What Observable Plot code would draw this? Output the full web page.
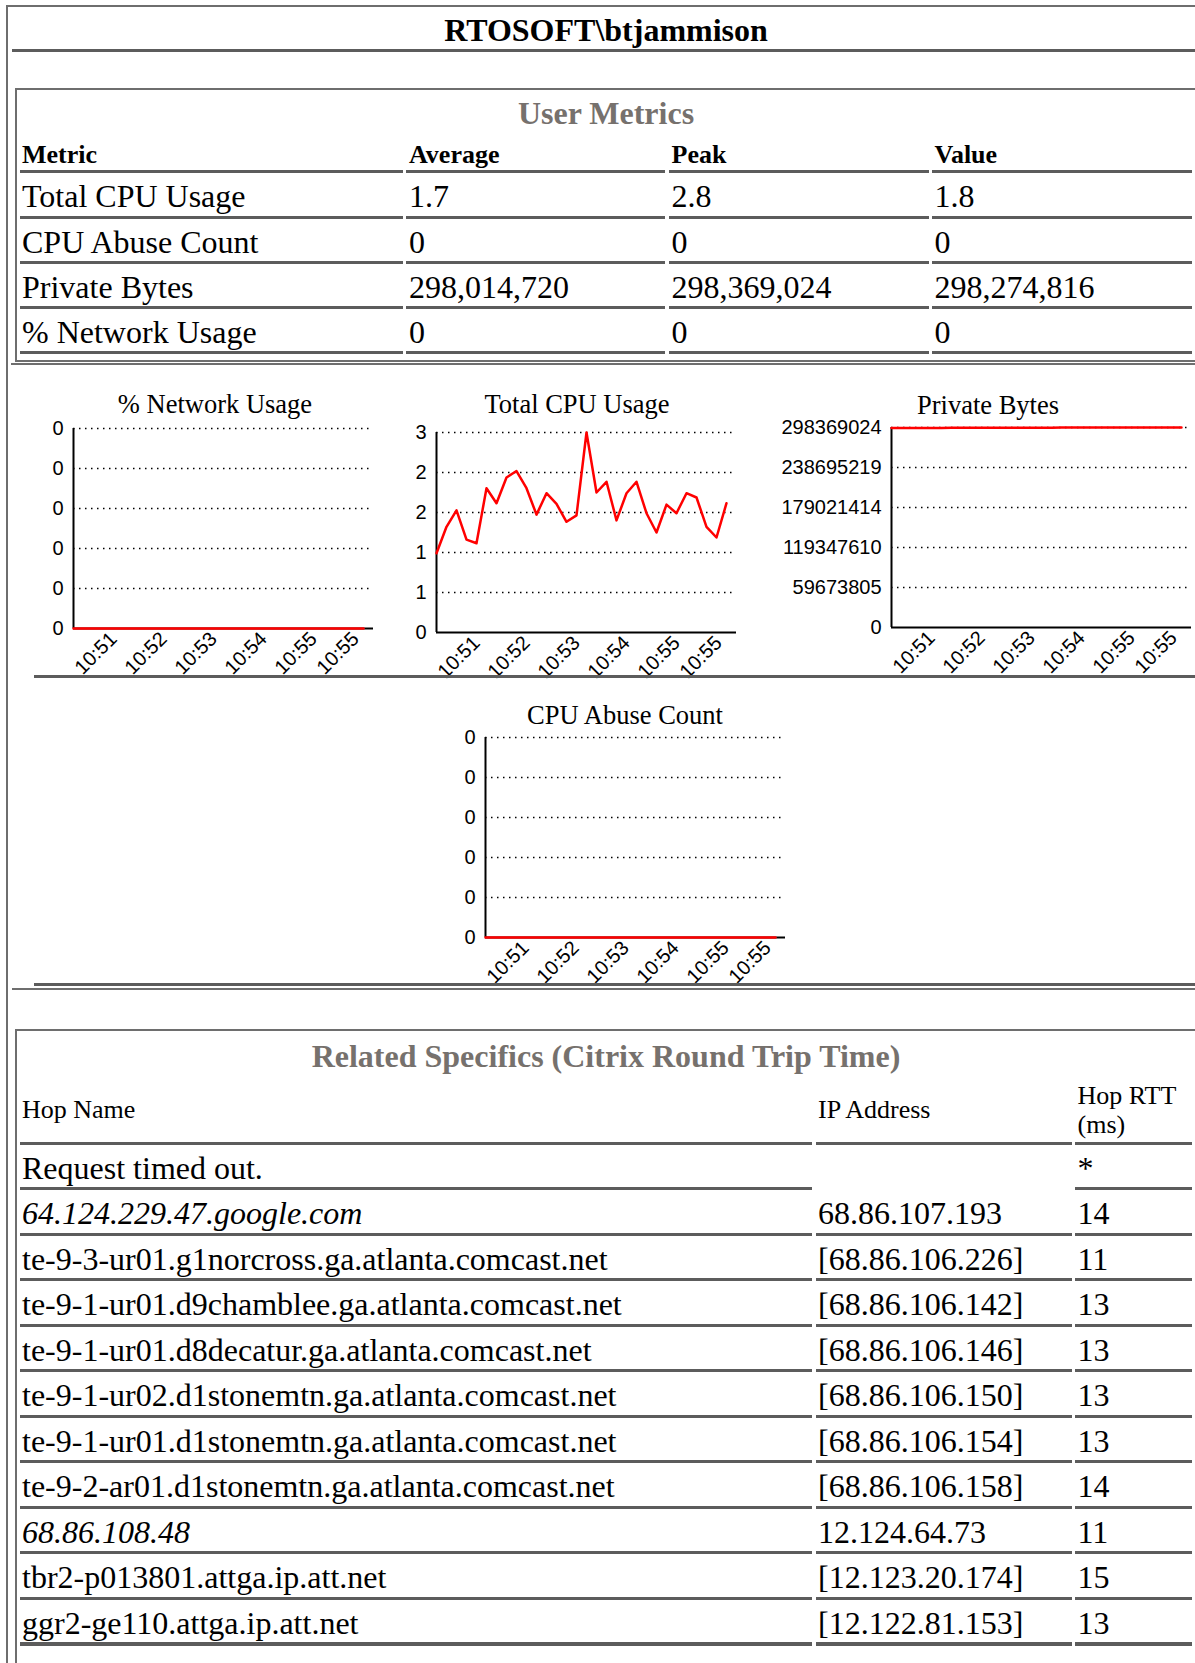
<!DOCTYPE html>
<html><head><meta charset="utf-8">
<script src="https://cdn.jsdelivr.net/npm/d3@7"></script>
<script src="https://cdn.jsdelivr.net/npm/@observablehq/plot@0.6"></script>
<style>
html,body{margin:0;padding:0;background:#fff;overflow:hidden;}
#page{position:relative;width:1195px;height:1663px;overflow:hidden;background:#fff;font-family:"Liberation Serif","Times New Roman",serif;color:#000;}
.t{position:absolute;white-space:nowrap;line-height:1;}
.ln{position:absolute;}
.chart{position:absolute;}
</style></head><body><div id="page"></div>
<script>
// ---------- data ----------
const pageTitle = "RTOSOFT\\btjammison";
const metricsTitle = "User Metrics";
const metricsHeader = ["Metric", "Average", "Peak", "Value"];
const metricNames = ["Total CPU Usage", "CPU Abuse Count", "Private Bytes", "% Network Usage"];
const metricAverage = ["1.7", "0", "298,014,720", "0"];
const metricPeak = ["2.8", "0", "298,369,024", "0"];
const metricValue = ["1.8", "0", "298,274,816", "0"];

const timeLabels = ["10:51", "10:52", "10:53", "10:54", "10:55", "10:55"];
const timeTickIndex = [4, 9, 14, 19, 24, 28.2];

const networkUsage = [0,0,0,0,0,0,0,0,0,0,0,0,0,0,0,0,0,0,0,0,0,0,0,0,0,0,0,0,0,0];
const cpuUsage = [1.11,1.48,1.71,1.30,1.25,2.02,1.81,2.17,2.26,2.02,1.65,1.95,1.80,1.55,1.64,2.80,1.96,2.11,1.57,1.95,2.11,1.67,1.40,1.79,1.67,1.95,1.89,1.48,1.33,1.81];
const privateBytes = [297650000,297700000,297720000,297760000,297800000,297790000,297820000,297850000,297880000,297900000,297930000,297960000,297990000,298050000,298100000,298150000,298180000,298200000,298250000,298280000,298300000,298330000,298340000,298369024,298350000,298330000,298300000,298260000,298290000,298274816];
const cpuAbuse = [0,0,0,0,0,0,0,0,0,0,0,0,0,0,0,0,0,0,0,0,0,0,0,0,0,0,0,0,0,0];

const networkTickLabels = ["0","0","0","0","0","0"];
const cpuTickLabels = ["0","1","1","2","2","3"];
const bytesTickLabels = ["0","59673805","119347610","179021414","238695219","298369024"];
const abuseTickLabels = ["0","0","0","0","0","0"];

const hopsTitle = "Related Specifics (Citrix Round Trip Time)";
const hopNames = ["Request timed out.","64.124.229.47.google.com","te-9-3-ur01.g1norcross.ga.atlanta.comcast.net","te-9-1-ur01.d9chamblee.ga.atlanta.comcast.net","te-9-1-ur01.d8decatur.ga.atlanta.comcast.net","te-9-1-ur02.d1stonemtn.ga.atlanta.comcast.net","te-9-1-ur01.d1stonemtn.ga.atlanta.comcast.net","te-9-2-ar01.d1stonemtn.ga.atlanta.comcast.net","68.86.108.48","tbr2-p013801.attga.ip.att.net","ggr2-ge110.attga.ip.att.net"];
const hopItalic = [false,true,false,false,false,false,false,false,true,false,false];
const hopIPs = ["","68.86.107.193","[68.86.106.226]","[68.86.106.142]","[68.86.106.146]","[68.86.106.150]","[68.86.106.154]","[68.86.106.158]","12.124.64.73","[12.123.20.174]","[12.122.81.153]"];
const hopRTT = ["*","14","11","13","13","13","13","14","11","15","13"];

// ---------- helpers ----------
const page = document.getElementById("page");
const BORDER = "#6e6e6e", RULE = "#5c5c5c", GRAYTXT = "#76716d";
function txt(s, x, base, size, o = {}) {
  const d = document.createElement("div");
  d.className = "t";
  d.textContent = s;
  d.style.fontSize = size + "px";
  if (o.bold) d.style.fontWeight = "bold";
  if (o.italic) d.style.fontStyle = "italic";
  if (o.color) d.style.color = o.color;
  d.style.top = (base - 0.8375 * size) + "px";
  if (o.center) { d.style.left = (x - 500) + "px"; d.style.width = "1000px"; d.style.textAlign = "center"; }
  else d.style.left = x + "px";
  page.appendChild(d);
}
function line(x, y, w, h, c) {
  const d = document.createElement("div");
  d.className = "ln";
  Object.assign(d.style, {left: x + "px", top: y + "px", width: w + "px", height: h + "px", background: c});
  page.appendChild(d);
}

// ---------- frame ----------
line(6, 5, 1300, 2, BORDER);
line(6, 5, 2, 1700, BORDER);
txt(pageTitle, 606, 40.5, 32, {bold: true, center: true});
line(11.5, 49, 1300, 3, RULE);

// ---------- user metrics table ----------
line(14.5, 88, 1300, 2, BORDER);
line(14.5, 88, 2, 274, BORDER);
txt(metricsTitle, 606, 123.5, 32, {bold: true, color: GRAYTXT, center: true});
const colX = [22, 409, 671.5, 934.5];
const colSeg = [[20, 402.5], [405.5, 665], [669, 928.5], [932, 1192]];
metricsHeader.forEach((h, i) => txt(h, colX[i], 163.3, 26, {bold: true}));
colSeg.forEach(([a, b]) => line(a, 170, b - a, 3, RULE));
const mCols = [metricNames, metricAverage, metricPeak, metricValue];
metricNames.forEach((_, r) => {
  const ul = 215.5 + r * 45.3;
  mCols.forEach((col, c) => txt(col[r], colX[c], ul - 8.5, 32));
  colSeg.forEach(([a, b]) => line(a, ul, b - a, 3, RULE));
});
line(14.5, 360, 1300, 2, BORDER);
line(11, 362.5, 1300, 2, BORDER);

// ---------- charts ----------
function drawChart(data, tickLabels, axisX, topY, title, titleX, titleBase) {
  const mL = 130, mT = 15, mR = 15, mB = 70, W = 300, H = 200;
  const yMax = d3.max(data) || 1;
  const yTicks = tickLabels.map((_, i) => yMax * i / (tickLabels.length - 1));
  const pts = data.map((v, i) => ({i, v}));
  const svg = Plot.plot({
    width: mL + W + mR, height: mT + H + mB,
    marginLeft: mL, marginTop: mT, marginRight: mR, marginBottom: mB,
    x: {domain: [0, 30], axis: null, label: null},
    y: {domain: [0, yMax], axis: null, label: null},
    style: {background: "transparent", overflow: "visible", fontFamily: "'Liberation Sans', Arial, sans-serif", fontSize: "20px", color: "#000"},
    marks: [
      Plot.gridY(yTicks.slice(1), {stroke: "#000", strokeOpacity: 1, strokeWidth: 1.5, strokeDasharray: "1.5,4.5"}),
      Plot.ruleY([0], {stroke: "#000", strokeWidth: 2}),
      Plot.ruleX([0], {stroke: "#000", strokeWidth: 2}),
      Plot.line(pts, {x: "i", y: "v", stroke: "#ff0000", strokeWidth: 2.5}),
      Plot.axisY(yTicks, {tickSize: 0, tickPadding: 10, label: null, fontSize: 20, tickFormat: d => tickLabels[yTicks.indexOf(d)]}),
      Plot.axisX(timeTickIndex, {tickSize: 0, tickPadding: 7, tickRotate: -45, label: null, fontSize: 20, tickFormat: d => timeLabels[timeTickIndex.indexOf(d)]})
    ]
  });
  const div = document.createElement("div");
  div.className = "chart";
  div.style.left = (axisX - mL) + "px";
  div.style.top = (topY - mT) + "px";
  div.style.width = (mL + W + mR) + "px";
  div.appendChild(svg);
  page.appendChild(div);
  txt(title, titleX, titleBase, 26.5, {center: true});
}
drawChart(networkUsage, networkTickLabels, 73.3, 428.3, "% Network Usage", 215, 413.3);
drawChart(cpuUsage, cpuTickLabels, 436, 431.7, "Total CPU Usage", 577, 413.3);
drawChart(privateBytes, bytesTickLabels, 891, 427.3, "Private Bytes", 988, 414);
line(33.5, 675, 1300, 3, RULE);
drawChart(cpuAbuse, abuseTickLabels, 485, 736.7, "CPU Abuse Count", 625, 724);
line(34, 983, 1300, 3, RULE);
line(11.5, 987.5, 1300, 2.5, BORDER);

// ---------- hops table ----------
line(14.5, 1029, 1300, 2, BORDER);
line(14.5, 1029, 2, 700, BORDER);
txt(hopsTitle, 606, 1066.5, 32, {bold: true, color: GRAYTXT, center: true});
const hX = [22, 818, 1077.5];
const hSeg = [[20, 812], [815.5, 1071.5], [1075, 1192]];
txt("Hop Name", hX[0], 1118.5, 26);
txt("IP Address", hX[1], 1118.5, 26);
txt("Hop RTT", hX[2], 1105, 26);
txt("(ms)", hX[2], 1134, 26);
hSeg.forEach(([a, b]) => line(a, 1141.5, b - a, 3, RULE));
hopNames.forEach((n, r) => {
  const ul = 1187 + r * 45.5;
  txt(n, hX[0], ul - 8.5, 32, {italic: hopItalic[r]});
  if (hopIPs[r]) txt(hopIPs[r], hX[1], ul - 8.5, 32);
  txt(hopRTT[r], hX[2], ul - 8.5, 32);
  hSeg.forEach(([a, b], c) => { if (c !== 1 || hopIPs[r]) line(a, ul, b - a, r === hopNames.length - 1 ? 3.5 : 3, RULE); });
});
</script>
</body></html>
